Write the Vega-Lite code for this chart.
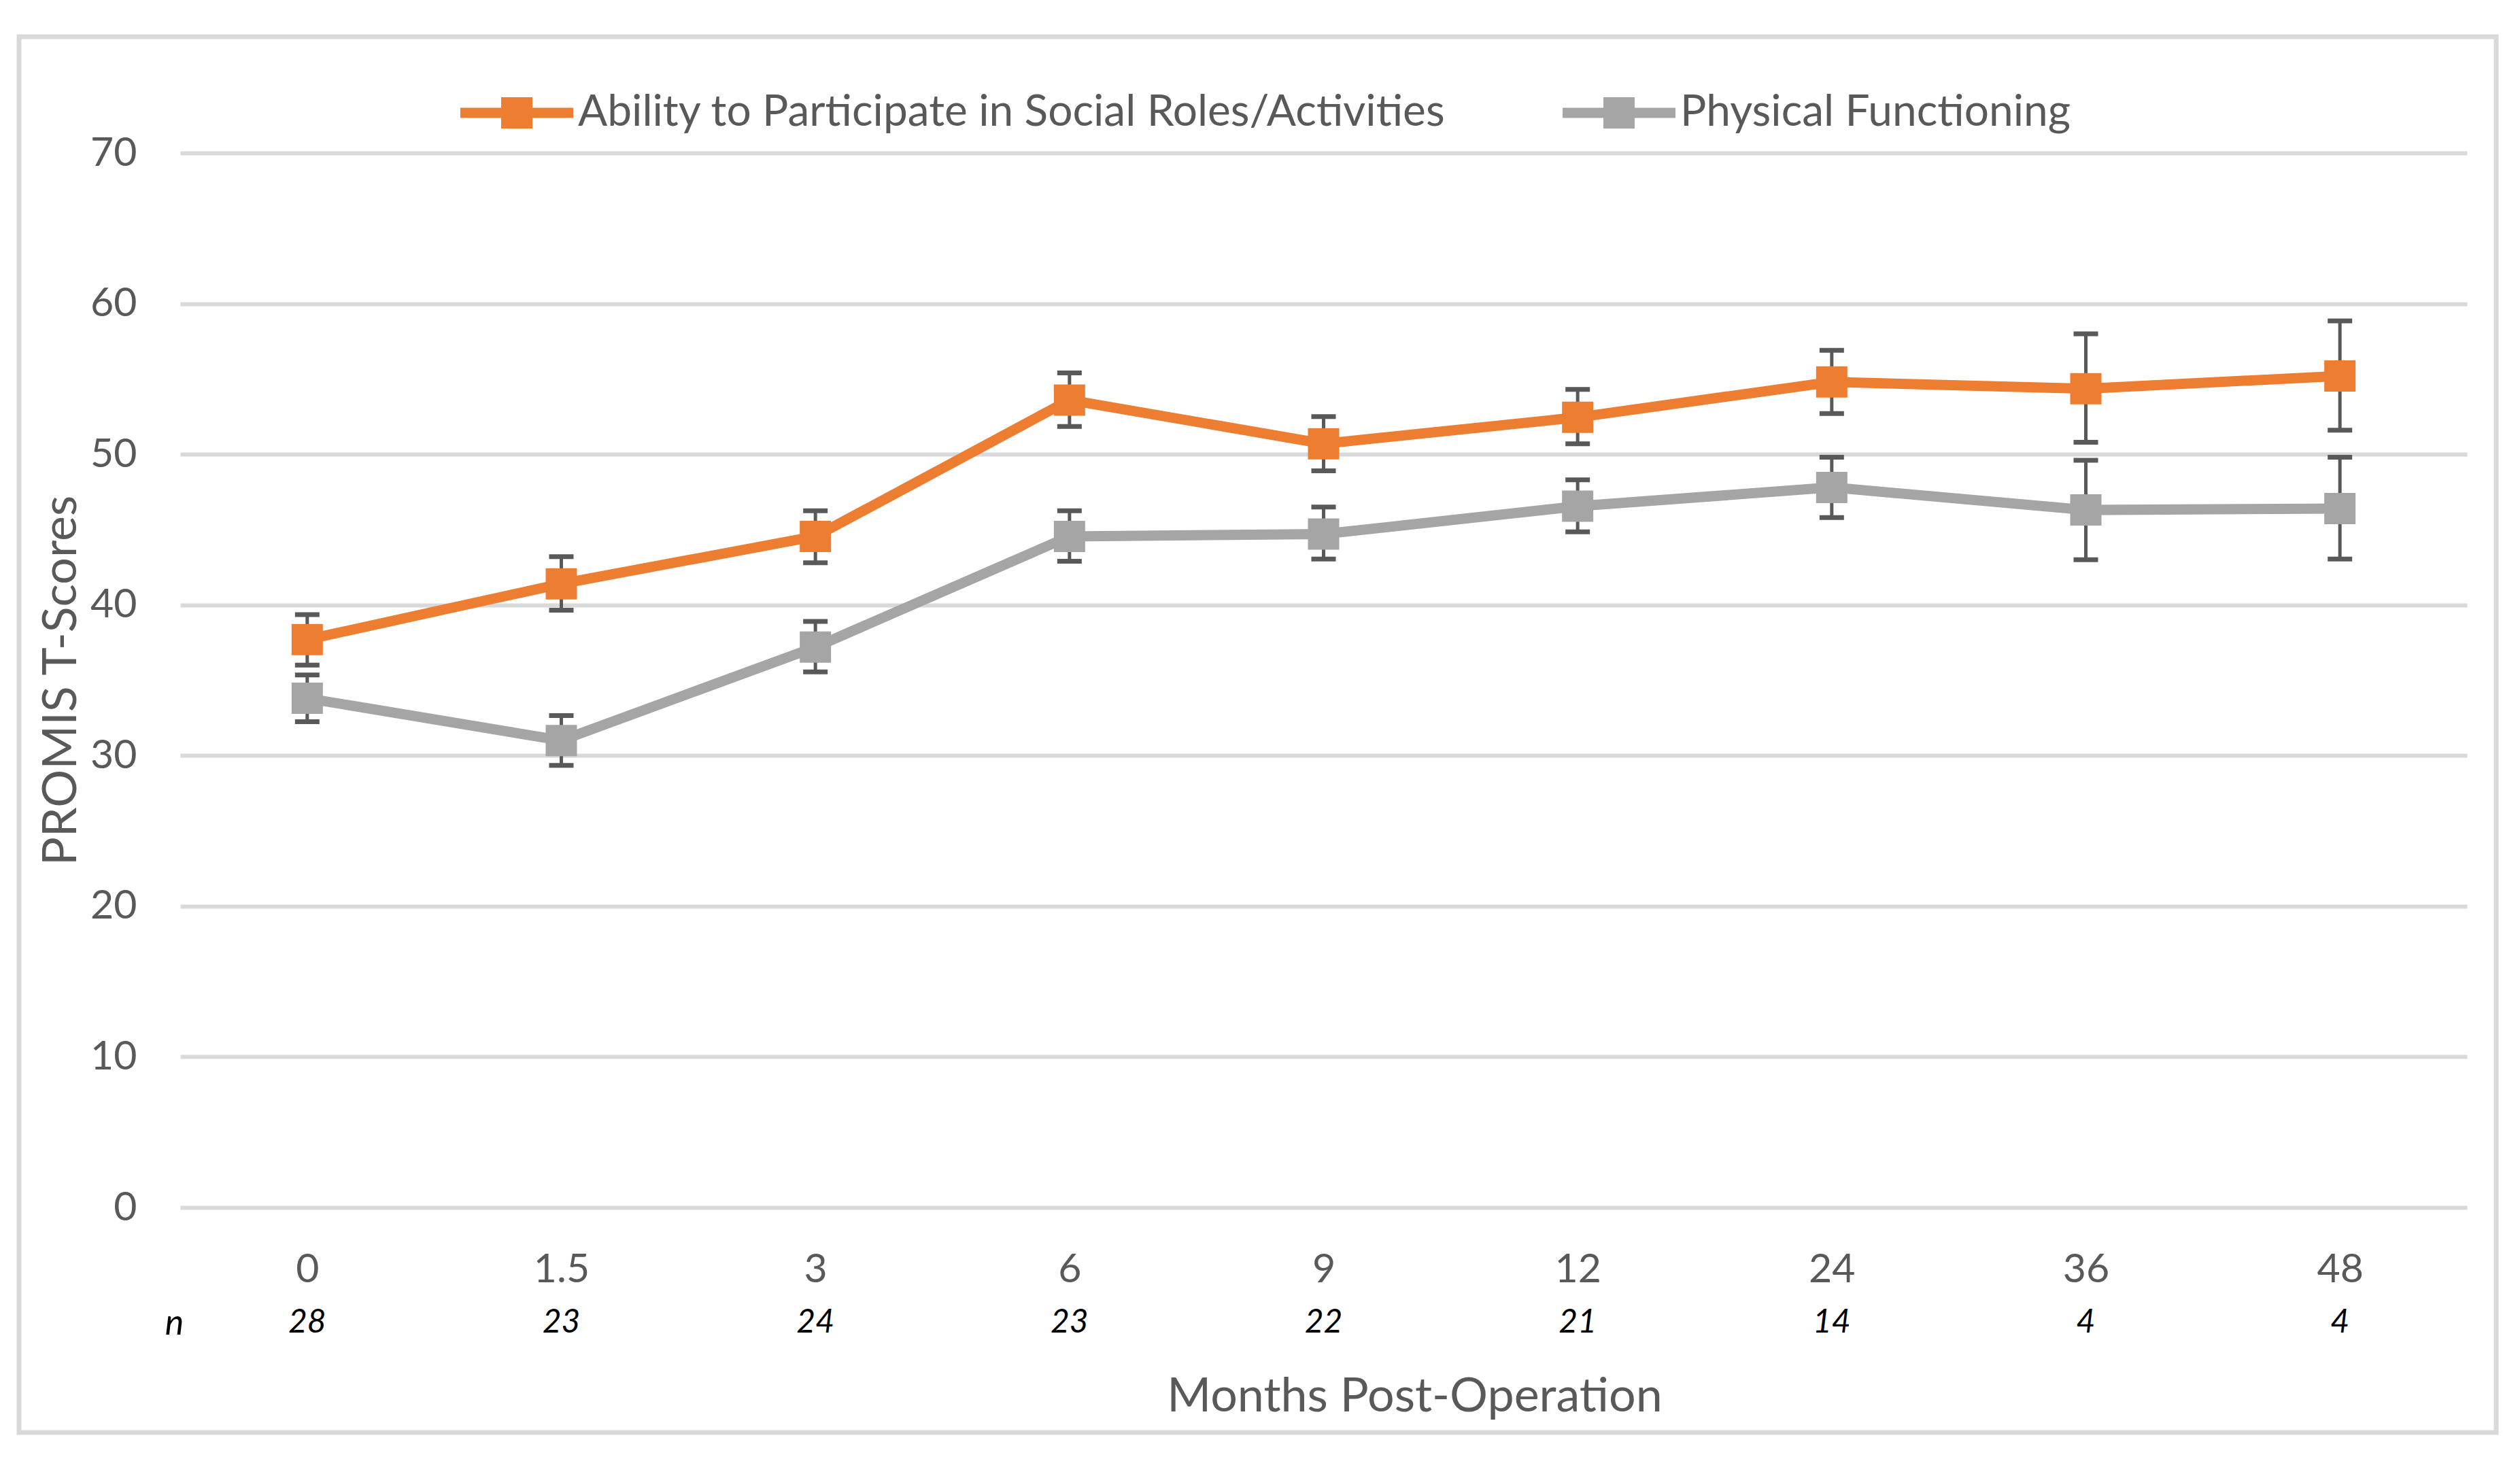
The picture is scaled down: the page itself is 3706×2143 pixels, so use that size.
{
  "$schema": "https://vega.github.io/schema/vega-lite/v6.json",
  "width": 3363,
  "height": 1551,
  "autosize": {"type": "none"},
  "padding": {"left": 265, "top": 225, "right": 78, "bottom": 367},
  "background": "white",
  "config": {"font": "Lato", "view": {"stroke": null}, "legend": {"strokeWidth": 7}},
  "datasets": {
    "scores": [
      {"month": 0, "series": "Ability to Participate in Social Roles/Activities", "mean": 37.7, "lo": 36.0, "hi": 39.35},
      {"month": 1.5, "series": "Ability to Participate in Social Roles/Activities", "mean": 41.4, "lo": 39.65, "hi": 43.2},
      {"month": 3, "series": "Ability to Participate in Social Roles/Activities", "mean": 44.55, "lo": 42.8, "hi": 46.25},
      {"month": 6, "series": "Ability to Participate in Social Roles/Activities", "mean": 53.6, "lo": 51.85, "hi": 55.4},
      {"month": 9, "series": "Ability to Participate in Social Roles/Activities", "mean": 50.7, "lo": 48.9, "hi": 52.5},
      {"month": 12, "series": "Ability to Participate in Social Roles/Activities", "mean": 52.45, "lo": 50.7, "hi": 54.3},
      {"month": 24, "series": "Ability to Participate in Social Roles/Activities", "mean": 54.8, "lo": 52.7, "hi": 56.9},
      {"month": 36, "series": "Ability to Participate in Social Roles/Activities", "mean": 54.35, "lo": 50.8, "hi": 58.0},
      {"month": 48, "series": "Ability to Participate in Social Roles/Activities", "mean": 55.2, "lo": 51.6, "hi": 58.85},
      {"month": 0, "series": "Physical Functioning", "mean": 33.8, "lo": 32.25, "hi": 35.35},
      {"month": 1.5, "series": "Physical Functioning", "mean": 31.0, "lo": 29.35, "hi": 32.65},
      {"month": 3, "series": "Physical Functioning", "mean": 37.2, "lo": 35.55, "hi": 38.9},
      {"month": 6, "series": "Physical Functioning", "mean": 44.55, "lo": 42.9, "hi": 46.25},
      {"month": 9, "series": "Physical Functioning", "mean": 44.7, "lo": 43.05, "hi": 46.5},
      {"month": 12, "series": "Physical Functioning", "mean": 46.55, "lo": 44.85, "hi": 48.3},
      {"month": 24, "series": "Physical Functioning", "mean": 47.8, "lo": 45.8, "hi": 49.8},
      {"month": 36, "series": "Physical Functioning", "mean": 46.3, "lo": 43.0, "hi": 49.6},
      {"month": 48, "series": "Physical Functioning", "mean": 46.4, "lo": 43.05, "hi": 49.8}
    ],
    "counts": [
      {"month": 0, "n": 28},
      {"month": 1.5, "n": 23},
      {"month": 3, "n": 24},
      {"month": 6, "n": 23},
      {"month": 9, "n": 22},
      {"month": 12, "n": 21},
      {"month": 24, "n": 14},
      {"month": 36, "n": 4},
      {"month": 48, "n": 4}
    ]
  },
  "title": {
    "text": "Months Post-Operation",
    "orient": "bottom",
    "anchor": "middle",
    "frame": "group",
    "dx": 134,
    "offset": -90,
    "fontSize": 70,
    "fontWeight": "normal",
    "color": "#595959"
  },
  "resolve": {"scale": {"color": "independent"}, "legend": {"color": "independent"}},
  "encoding": {
    "x": {
      "field": "month",
      "type": "ordinal",
      "scale": {"type": "point", "padding": 0.5},
      "axis": {
        "title": "n",
        "titleX": -9,
        "titleY": 170,
        "titleAngle": 0,
        "titleAlign": "center",
        "titleBaseline": "middle",
        "titleFontStyle": "italic",
        "titleFontWeight": "normal",
        "titleColor": "black",
        "titleFontSize": 52,
        "labelAngle": 0,
        "labelFontSize": 59,
        "labelColor": "#595959",
        "labelPadding": 91,
        "labelBaseline": "middle",
        "ticks": false,
        "tickSize": 0,
        "domain": false,
        "grid": false
      }
    }
  },
  "layer": [
    {
      "layer": [
        {
          "data": {"name": "scores"},
          "mark": {"type": "rule", "color": "#595959", "strokeWidth": 5},
          "encoding": {
            "y": {"field": "lo", "type": "quantitative", "scale": {"domain": [0, 70], "nice": false},
              "axis": {
                "values": [0, 10, 20, 30, 40, 50, 60, 70],
                "title": "PROMIS T-Scores",
                "titleFontSize": 70,
                "titleFontWeight": "normal",
                "titleColor": "#595959",
                "titleX": -175,
                "titleBaseline": "middle",
                "labelFontSize": 59,
                "labelColor": "#595959",
                "labelPadding": 64,
                "ticks": false,
                "tickSize": 0,
                "domain": false,
                "gridColor": "#d9d9d9",
                "gridWidth": 6
              }},
            "y2": {"field": "hi"}
          }
        },
        {
          "data": {"name": "scores"},
          "mark": {"type": "tick", "color": "#595959", "size": 36, "thickness": 7, "opacity": 1},
          "encoding": {"y": {"field": "lo", "type": "quantitative"}}
        },
        {
          "data": {"name": "scores"},
          "mark": {"type": "tick", "color": "#595959", "size": 36, "thickness": 7, "opacity": 1},
          "encoding": {"y": {"field": "hi", "type": "quantitative"}}
        },
        {
          "data": {"name": "scores"},
          "mark": {"type": "line", "strokeWidth": 15},
          "encoding": {
            "y": {"field": "mean", "type": "quantitative"},
            "color": {"field": "series", "type": "nominal",
              "scale": {"domain": ["Ability to Participate in Social Roles/Activities", "Physical Functioning"], "range": ["#ED7D31", "#A5A5A5"]}}
          }
        },
        {
          "data": {"name": "scores"},
          "mark": {"type": "point", "shape": "square", "filled": true, "size": 2116, "opacity": 1, "strokeWidth": 0},
          "encoding": {
            "y": {"field": "mean", "type": "quantitative"},
            "color": {"field": "series", "type": "nominal",
              "scale": {"domain": ["Ability to Participate in Social Roles/Activities", "Physical Functioning"], "range": ["#ED7D31", "#A5A5A5"]},
              "legend": {
                "orient": "none",
                "legendX": 412,
                "legendY": -142,
                "direction": "horizontal",
                "title": null,
                "padding": 0,
                "symbolType": "M-1,-0.09H1V0.09H-1Z M-0.277,-0.277H0.277V0.277H-0.277Z",
                "symbolSize": 27556,
                "symbolStrokeWidth": 0,
                "symbolOpacity": 1,
                "labelFontSize": 64,
                "labelColor": "#595959",
                "labelOffset": 7,
                "labelLimit": 3000,
                "columnPadding": 171
              }}
          }
        },
        {
          "data": {"name": "counts"},
          "mark": {"type": "text", "fontSize": 48, "fontStyle": "italic", "color": "black", "baseline": "middle", "align": "center"},
          "encoding": {
            "y": {"datum": -7.67, "type": "quantitative"},
            "text": {"field": "n", "type": "quantitative"}
          }
        }
      ]
    },
    {
      "data": {"name": "counts"},
      "mark": {"type": "point", "opacity": 0},
      "encoding": {
        "y": {"datum": 0, "type": "quantitative"},
        "color": {"field": "n", "type": "quantitative",
          "scale": {"range": ["rgba(255,255,255,0)", "rgba(255,255,255,0)"]},
          "legend": {
            "type": "gradient",
            "orient": "none",
            "legendX": -237,
            "legendY": -171,
            "direction": "vertical",
            "title": null,
            "padding": 0,
            "gradientLength": 2053,
            "gradientThickness": 3643,
            "gradientStrokeWidth": 0,
            "labelExpr": "''",
            "labelFontSize": 1,
            "labelOffset": 0,
            "strokeColor": "#d9d9d9"
          }}
      }
    }
  ]
}
